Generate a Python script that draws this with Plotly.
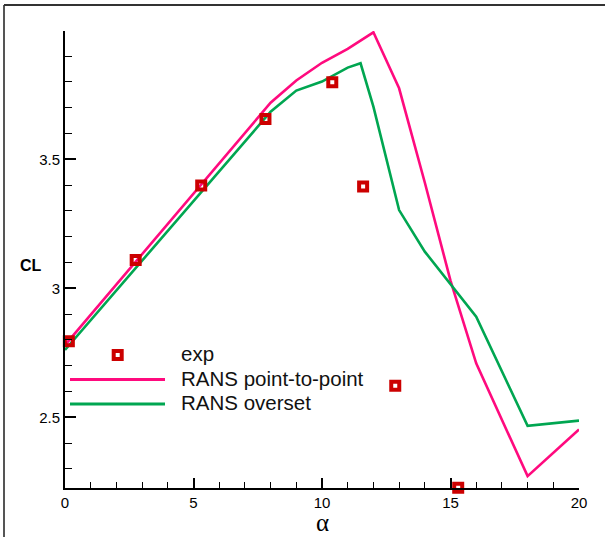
import plotly.graph_objects as go

# ---- data ----
alpha_exp = [0.15, 2.75, 5.3, 7.8, 10.4, 11.6, 12.85, 15.3]
cl_exp = [2.795, 3.110, 3.398, 3.656, 3.798, 3.394, 2.622, 2.227]

alpha_p2p = [0, 8, 9, 10, 11, 12, 13, 14, 15, 16, 18, 20]
cl_p2p = [2.78, 3.719, 3.805, 3.874, 3.928, 3.992, 3.775, 3.41, 3.03, 2.709, 2.272, 2.453]

alpha_ov = [0, 8, 9, 10, 11, 11.5, 12, 13, 14, 16, 18, 20]
cl_ov = [2.761, 3.684, 3.766, 3.801, 3.855, 3.872, 3.704, 3.303, 3.142, 2.89, 2.467, 2.487]

legend_names = ["exp", "RANS point-to-point", "RANS overset"]
x_ticks = [0, 5, 10, 15, 20]
y_ticks = [2.5, 3, 3.5]

# ---- style ----
C_EXP = "#cc0000"
C_P2P = "#ff0a7e"
C_OV = "#00a651"
FONT = "Liberation Sans, Arial, sans-serif"

W, H = 605, 537
ML, MR, MT, MB = 65, 26, 31, 49
PW, PH = W - ML - MR, H - MT - MB


def px(xp):
    return (xp - ML) / PW


def py(yp):
    return (H - MB - yp) / PH


fig = go.Figure()
fig.add_trace(go.Scatter(x=alpha_p2p, y=cl_p2p, mode="lines", name=legend_names[1],
                         line=dict(color=C_P2P, width=2.6), showlegend=False))
fig.add_trace(go.Scatter(x=alpha_ov, y=cl_ov, mode="lines", name=legend_names[2],
                         line=dict(color=C_OV, width=2.6), showlegend=False))
fig.add_trace(go.Scatter(x=alpha_exp, y=cl_exp, mode="markers", name=legend_names[0],
                         marker=dict(symbol="square-open", size=8, color=C_EXP,
                                     line=dict(width=4, color=C_EXP)),
                         cliponaxis=False, showlegend=False))

shapes = []
annotations = []

# manual legend
leg_rows = [355, 379.5, 404]
text_x = 179
s = 8
shapes.append(dict(type="rect", xref="paper", yref="paper",
                   x0=px(117.7 - s / 2), x1=px(117.7 + s / 2),
                   y0=py(355 + s / 2), y1=py(355 - s / 2),
                   line=dict(color=C_EXP, width=4), fillcolor="white"))
for yrow, col in zip(leg_rows[1:], [C_P2P, C_OV]):
    shapes.append(dict(type="line", xref="paper", yref="paper",
                       x0=px(70), x1=px(165), y0=py(yrow), y1=py(yrow),
                       line=dict(color=col, width=3.2)))
for name, yrow in zip(legend_names, [353, 378.5, 402.5]):
    annotations.append(dict(text=name, xref="paper", yref="paper", x=px(text_x), y=py(yrow),
                            xanchor="left", yanchor="middle", showarrow=False,
                            font=dict(family=FONT, size=20.5, color="#111")))

# frame (left and top)
shapes.append(dict(type="line", xref="paper", yref="paper",
                   x0=px(4), x1=px(4), y0=py(537), y1=py(5),
                   line=dict(color="#555", width=2)))
shapes.append(dict(type="line", xref="paper", yref="paper",
                   x0=px(4), x1=px(605), y0=py(5), y1=py(5),
                   line=dict(color="#333", width=2)))

# axis titles
annotations.append(dict(text="<b>CL</b>", xref="paper", yref="paper", x=px(31), y=py(265),
                        xanchor="center", yanchor="middle", showarrow=False,
                        font=dict(family=FONT, size=16, color="black")))
annotations.append(dict(text="α", xref="paper", yref="paper", x=px(322), y=py(522),
                        xanchor="center", yanchor="middle", showarrow=False,
                        font=dict(family="Liberation Serif, DejaVu Serif, serif", size=25, color="black")))

fig.update_layout(
    width=W, height=H,
    margin=dict(l=ML, r=MR, t=MT, b=MB),
    paper_bgcolor="white", plot_bgcolor="white",
    showlegend=False,
    shapes=shapes, annotations=annotations,
    font=dict(family=FONT, color="black"),
)
fig.update_xaxes(range=[0, 20], tickvals=x_ticks, showline=True, linecolor="black", linewidth=2,
                 ticks="inside", ticklen=10, tickwidth=2, tickcolor="black",
                 tickfont=dict(family=FONT, size=15),
                 minor=dict(ticks="inside", dtick=1, ticklen=6, tickwidth=1, tickcolor="black"),
                 showgrid=False, zeroline=False)
fig.update_yaxes(range=[2.226, 3.997], tickvals=y_ticks, ticktext=[str(v) for v in y_ticks],
                 showline=True, linecolor="black", linewidth=2,
                 ticks="inside", ticklen=11, tickwidth=2, tickcolor="black",
                 tickfont=dict(family=FONT, size=15),
                 minor=dict(ticks="inside", tick0=0, dtick=0.1, ticklen=7, tickwidth=1, tickcolor="black"),
                 showgrid=False, zeroline=False)

fig.write_html("out.html", config={"displayModeBar": False},
               post_script="document.body.style.margin='0';document.body.style.overflow='hidden';")
